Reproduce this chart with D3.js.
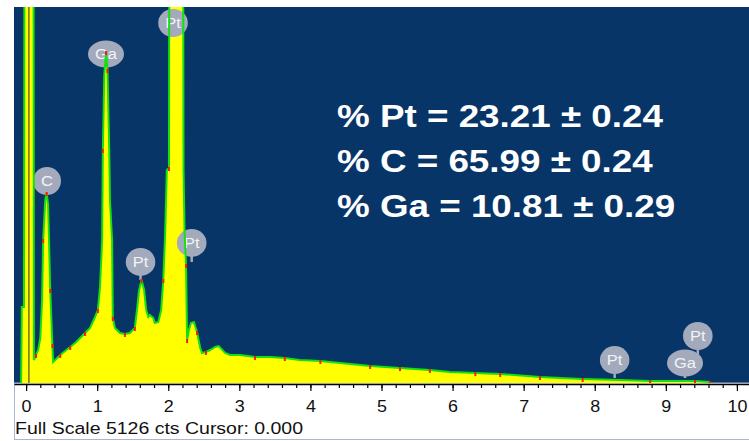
<!DOCTYPE html>
<html>
<head>
<meta charset="utf-8">
<script src="https://cdn.jsdelivr.net/npm/d3@7"></script>
<style>
body { margin: 0; background: #fff; }
svg { display: block; font-family: "Liberation Sans", Arial, sans-serif; }
</style>
</head>
<body>
<div id="chart"></div>
<script>
'use strict';

// spectrum: energy (keV) and counts
const energy = [-0.07, -0.06, -0.03, -0.015, 0.10, 0.11, 0.14, 0.17, 0.20, 0.225, 0.24, 0.27, 0.29, 0.31, 0.34, 0.37, 0.38, 0.41,
    0.48, 0.55, 0.62, 0.69, 0.76, 0.83, 0.90, 0.97, 1.01, 1.04, 1.07, 1.08, 1.10, 1.125, 1.145, 1.17, 1.18, 1.21, 1.22, 1.25,
    1.32, 1.39, 1.46, 1.53, 1.56, 1.59, 1.625, 1.66, 1.69, 1.72, 1.74, 1.79, 1.81, 1.86, 1.90, 1.93, 1.955, 1.98, 2.01, 2.02,
    2.11, 2.205, 2.215, 2.23, 2.25, 2.265, 2.29, 2.32, 2.36, 2.405, 2.45, 2.475, 2.53, 2.59, 2.66, 2.71, 2.80, 2.87, 3.01,
    3.22, 3.43, 3.64, 3.85, 4.14, 4.42, 4.84, 5.26, 5.68, 5.96, 6.32, 6.67, 7.23, 7.51, 7.83, 8.35, 8.78, 9.20, 9.41, 9.62, 9.63];
const counts = [0, 1036, 1036, 12000, 12000, 313, 382, 450, 613, 1131, 1950, 2495, 2590, 2427, 1268, 518, 286, 313,
    382, 436, 491, 545, 613, 682, 750, 900, 995, 1309, 1950, 3177, 4200, 4512, 4267, 3177, 2495, 1950, 886, 750,
    682, 668, 682, 750, 995, 1268, 1404, 1268, 995, 900, 927, 886, 818, 832, 995, 1404, 1990, 2904, 2931, 9000,
    9500, 9000, 2904, 2045, 1609, 586, 723, 818, 832, 695, 477, 409, 423, 450, 491, 504, 409, 382, 382,
    354, 354, 341, 313, 300, 273, 232, 204, 177, 150, 136, 123, 82, 68, 55, 41, 27, 27, 27, 14, 0];

// red overlay channels
const redE = [0.14, 0.24, 0.29, 0.34, 0.37, 0.48, 0.62, 0.83, 1.01, 1.08, 1.125, 1.145, 1.22, 1.39, 1.53, 1.625, 1.93, 2.01,
    2.25, 2.265, 2.405, 2.53, 3.22, 3.64, 4.14, 4.84, 5.26, 5.68, 6.32, 6.67, 7.23, 7.83, 8.78, 9.41, 9.62];
const redC = [382, 1950, 2590, 1268, 518, 382, 491, 682, 995, 3177, 4512, 4267, 886, 668, 750, 1404, 1404, 2931,
    1609, 586, 695, 423, 354, 341, 300, 232, 204, 177, 136, 123, 82, 55, 27, 27, 14];

// peak labels: element, energy, label centre (counts), stem end (counts)
const labelText = ['C', 'Ga', 'Pt', 'Pt', 'Pt', 'Pt', 'Ga', 'Pt'];
const labelE    = [0.294, 1.124, 2.067, 1.61, 2.33, 8.28, 9.27, 9.45];
const labelC    = [2754, 4485, 4908, 1650, 1909, 313, 273, 641];
const stemC     = [2590, 4485, 4908, 1404, 1650, 68, 68, 354];

const quantLines = ['% Pt = 23.21 \u00b1 0.24', '% C = 65.99 \u00b1 0.24', '% Ga = 10.81 \u00b1 0.29'];
const fullScale = 5126;
const cursorE = 0.04;
const majorTicks = [0, 1, 2, 3, 4, 5, 6, 7, 8, 9, 10];

const W = 749, H = 441;
const plot = {left: 14, top: 7, right: 749, bottom: 383};

const x = d3.scaleLinear().domain([-0.17, 10.17]).range([plot.left, plot.right]);
const y = d3.scaleLinear().domain([0, fullScale]).range([plot.bottom, plot.top]);

const svg = d3.select('#chart').append('svg')
    .attr('width', W)
    .attr('height', H);

svg.append('defs').append('clipPath')
    .attr('id', 'plotClip')
    .append('rect')
    .attr('x', plot.left).attr('y', plot.top)
    .attr('width', plot.right - plot.left).attr('height', plot.bottom - plot.top);

svg.append('rect')
    .attr('x', plot.left).attr('y', plot.top)
    .attr('width', plot.right - plot.left).attr('height', plot.bottom - plot.top)
    .attr('fill', '#083567');

// bottom panel
svg.append('rect')
    .attr('x', plot.left + 0.5).attr('y', plot.bottom)
    .attr('width', plot.right - plot.left + 2).attr('height', H - plot.bottom - 1.5)
    .attr('fill', '#fff')
    .attr('stroke', '#a9b6cc');

const cht = svg.append('g').attr('clip-path', 'url(#plotClip)');
const spec = energy.map((e, i) => [e, counts[i]]);

cht.append('path')
    .datum(spec)
    .attr('fill', '#ffff00')
    .attr('d', d3.area().x(d => x(d[0])).y0(plot.bottom).y1(d => y(d[1])));

// labels go over the fill, under the outline
const lab = cht.append('g');
labelText.forEach((t, i) =>
{
    let g = lab.append('g').attr('transform', `translate(${x(labelE[i])},${y(labelC[i])})`);
    g.append('line')
        .attr('x1', 0).attr('y1', 0)
        .attr('x2', 0).attr('y2', y(stemC[i]) - y(labelC[i]))
        .attr('stroke', '#a3aabb')
        .attr('stroke-width', 2.5);
    let ell = g.append('ellipse').attr('fill', '#a3aabb');
    let txt = g.append('text')
        .attr('text-anchor', 'middle')
        .attr('dy', '0.36em')
        .attr('font-size', 15)
        .attr('fill', '#f2f3f7')
        .attr('transform', 'scale(1.1,1)')
        .text(t);
    let w = txt.node().getComputedTextLength() * 1.1;
    ell.attr('rx', Math.max(14, w / 2 + 7)).attr('ry', t === 'Ga' ? 13.5 : 14);
});

cht.append('path')
    .datum(spec)
    .attr('fill', 'none')
    .attr('stroke', '#12e012')
    .attr('stroke-width', 2)
    .attr('stroke-linejoin', 'miter')
    .attr('d', d3.line().x(d => x(d[0])).y(d => y(d[1])));

cht.selectAll('rect.red')
    .data(redE.map((e, i) => [e, redC[i]]))
    .enter()
    .append('rect')
    .attr('class', 'red')
    .attr('x', d => x(d[0]) - 1)
    .attr('y', d => y(d[1]) - 1)
    .attr('width', 2)
    .attr('height', 4)
    .attr('fill', '#ff1a00');

cht.append('line')
    .attr('x1', x(cursorE)).attr('x2', x(cursorE))
    .attr('y1', plot.top).attr('y2', plot.bottom)
    .attr('stroke', '#2b2b12')
    .attr('stroke-width', 1);

// axis
const minorTicks = d3.range(0, 10.001, 0.2);
const axMinor = svg.append('g')
    .attr('transform', `translate(0,${plot.bottom + 1})`)
    .call(d3.axisBottom(x).tickValues(minorTicks).tickSize(4).tickSizeOuter(0).tickFormat(''));
axMinor.select('.domain').remove();

const axMajor = svg.append('g')
    .attr('transform', `translate(0,${plot.bottom + 1})`)
    .call(d3.axisBottom(x).tickValues(majorTicks).tickSize(7).tickSizeOuter(0).tickFormat(d3.format('d')));
axMajor.select('.domain').attr('stroke', '#000').attr('stroke-width', 1.5);
svg.selectAll('.tick line').attr('stroke', '#000').attr('stroke-width', 1.2);
axMajor.selectAll('.tick text')
    .attr('y', 28)
    .attr('dy', 0)
    .attr('font-size', 16)
    .attr('font-family', '"Liberation Sans", Arial, sans-serif')
    .attr('fill', '#111')
    .attr('transform', 'scale(1.12,1)');

svg.append('text')
    .attr('x', plot.left + 1)
    .attr('y', 434)
    .attr('font-size', 16)
    .attr('fill', '#111')
    .attr('textLength', 288)
    .attr('lengthAdjust', 'spacingAndGlyphs')
    .text(`Full Scale ${fullScale} cts Cursor: 0.000`);

// quantification
svg.selectAll('text.quant')
    .data(quantLines)
    .enter()
    .append('text')
    .attr('class', 'quant')
    .attr('transform', (d, i) => `translate(337,${127 + i * 45}) scale(1.15,1)`)
    .attr('font-size', 32)
    .attr('font-weight', 'bold')
    .attr('fill', '#fff')
    .text(d => d);
</script>
</body>
</html>
